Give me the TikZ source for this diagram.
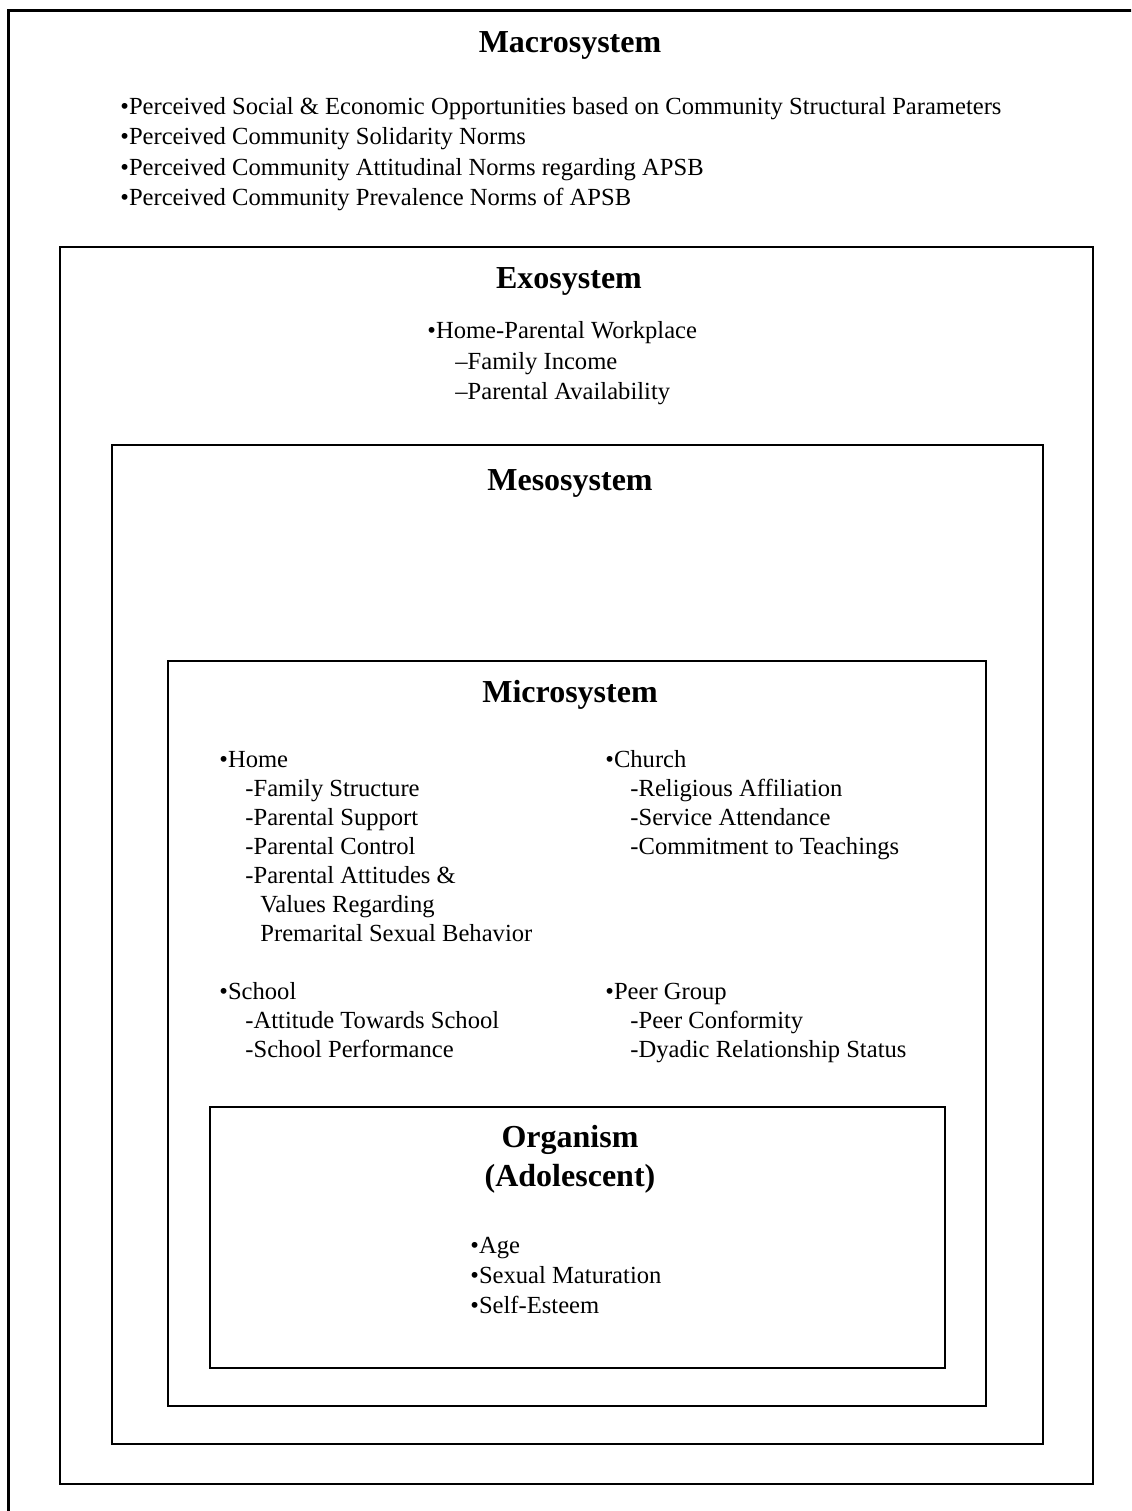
\documentclass[tikz,border=0pt]{standalone}
\usepackage{fontspec}
\setmainfont{Liberation Serif}
\usepackage{tikz}
\tikzstyle{sysbox} = [draw, line width=1.2pt]
\tikzstyle{head} = [font=\fontsize{16}{19}\selectfont\bfseries, inner sep=0pt]
\tikzstyle{item} = [font=\fontsize{12.3}{14}\selectfont, anchor=west, inner sep=0pt,
                    text height=8.5pt, text depth=2.5pt]

\begin{document}
\begin{tikzpicture}[x=0.5pt, y=-0.5pt]
\useasboundingbox (0,0) rectangle (1131,1511);
\clip (0,0) rectangle (1131,1511);

%Macrosystem
\draw[line width=1.5pt] (8,10) rectangle (1160,1540);
\node[head] (macro) at (570,45) {Macrosystem};
\node[item] (m1) at (120,108) {•Perceived Social \& Economic Opportunities based on Community Structural Parameters};
\node[item] (m2) at (120,138) {•Perceived Community Solidarity Norms};
\node[item] (m3) at (120,169) {•Perceived Community Attitudinal Norms regarding APSB};
\node[item] (m4) at (120,199) {•Perceived Community Prevalence Norms of APSB};

%Exosystem
\draw[sysbox] (60,247) rectangle (1093,1484);
\node[head] (exo) at (569,281) {Exosystem};
\node[item] (e1) at (427,332) {•Home-Parental Workplace};
\node[item] (e2) at (455,363) {–Family Income};
\node[item] (e3) at (455,393) {–Parental Availability};

%Mesosystem
\draw[sysbox] (112,445) rectangle (1043,1444);
\node[head] (meso) at (570,483) {Mesosystem};

%Microsystem
\draw[sysbox] (168,661) rectangle (986,1406);
\node[head] (micro) at (570,695) {Microsystem};

% Home
\node[item] (home) at (219,761) {•Home};
\node[item] (h1) at (245,790) {-Family Structure};
\node[item] (h2) at (245,819) {-Parental Support};
\node[item] (h3) at (245,848) {-Parental Control};
\node[item] (h4) at (245,877) {-Parental Attitudes \&};
\node[item] (h5) at (260,906) {Values Regarding};
\node[item] (h6) at (260,935) {Premarital Sexual Behavior};

% Church
\node[item] (church) at (605,761) {•Church};
\node[item] (c1) at (630,790) {-Religious Affiliation};
\node[item] (c2) at (630,819) {-Service Attendance};
\node[item] (c3) at (630,848) {-Commitment to Teachings};

% School
\node[item] (school) at (219,993) {•School};
\node[item] (s1) at (245,1022) {-Attitude Towards School};
\node[item] (s2) at (245,1051) {-School Performance};

% Peer group
\node[item] (peer) at (605,993) {•Peer Group};
\node[item] (p1) at (630,1022) {-Peer Conformity};
\node[item] (p2) at (630,1051) {-Dyadic Relationship Status};

%Organism
\draw[sysbox] (210,1107) rectangle (945,1368);
\node[head] (org) at (570,1140) {Organism};
\node[head] (adol) at (570,1179) {(Adolescent)};
\node[item] (o1) at (470,1247) {•Age};
\node[item] (o2) at (470,1277) {•Sexual Maturation};
\node[item] (o3) at (470,1307) {•Self-Esteem};

\end{tikzpicture}
\end{document}
